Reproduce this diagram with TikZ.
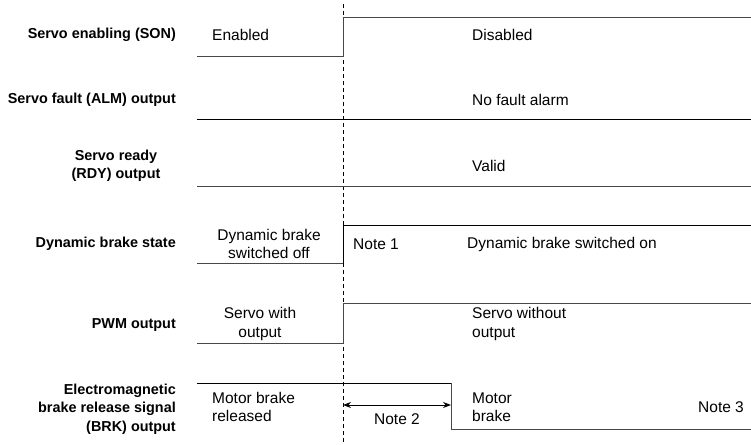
\documentclass[tikz,border=0pt]{standalone}
\usepackage{fontspec}
\setmainfont{Liberation Sans}
\usetikzlibrary{arrows.meta}

\begin{document}
\begin{tikzpicture}[
  x=1pt, y=-1pt,
  >={Stealth[length=8pt,width=6pt]},
  wave/.style={line width=1pt, black!72},
  marker/.style={dash pattern=on 4pt off 3pt, line width=0.8pt, black},
  signal/.style={font=\fontsize{14.4}{18.5}\selectfont\bfseries, align=right, anchor=east, inner sep=0pt},
  state/.style={font=\fontsize{15.5}{18.5}\selectfont, align=left, anchor=west, inner sep=0pt},
  mid state/.style={state, align=center, anchor=center}
]
  \useasboundingbox (0,0) rectangle (751,444);

  % switching instant
  \coordinate (t0) at (343,4);
  \coordinate (t1) at (343,444);
  \draw[marker] (t0) -- (t1);

  % signal names
  \node[signal] (son) at (176,35) {Servo enabling (SON)};
  \node[signal] (alm) at (176,100) {Servo fault (ALM) output};
  \node[signal, align=center, anchor=center] (rdy) at (116,166) {Servo ready\\(RDY) output};
  \node[signal] (dyn) at (176,244) {Dynamic brake state};
  \node[signal] (pwm) at (176,325) {PWM output};
  \node[signal] (brk) at (176,409) {Electromagnetic\\brake release signal\\(BRK) output};

  % SON
  \coordinate (son a) at (197,56);
  \coordinate (son b) at (343,56);
  \coordinate (son c) at (343,18);
  \coordinate (son d) at (751,18);
  \draw[wave] (son a) -- (son b) -- (son c) -- (son d);
  \node[state] (son1) at (212,35) {Enabled};
  \node[state] (son2) at (472,35) {Disabled};

  % ALM
  \coordinate (alm a) at (197,119);
  \coordinate (alm b) at (751,119);
  \draw[wave, black] (alm a) -- (alm b);
  \node[state] (alm1) at (472,100) {No fault alarm};

  % RDY
  \coordinate (rdy a) at (197,186);
  \coordinate (rdy b) at (751,186);
  \draw[wave] (rdy a) -- (rdy b);
  \node[state] (rdy1) at (472,166) {Valid};

  % dynamic brake
  \coordinate (dyn a) at (197,263);
  \coordinate (dyn b) at (343,263);
  \coordinate (dyn c) at (343,225);
  \coordinate (dyn d) at (751,225);
  \draw[wave] (dyn a) -- (dyn b);
  \draw[wave, black] (dyn b) -- (dyn c) -- (dyn d);
  \node[mid state] (dyn1) at (269,244) {Dynamic brake\\switched off};
  \node[state] (note1) at (353,244) {Note 1};
  \node[state] (dyn2) at (467,244) {Dynamic brake switched on};

  % PWM
  \coordinate (pwm a) at (197,343);
  \coordinate (pwm b) at (343,343);
  \coordinate (pwm c) at (343,303);
  \coordinate (pwm d) at (751,303);
  \draw[wave] (pwm a) -- (pwm b) -- (pwm c) -- (pwm d);
  \node[mid state] (pwm1) at (260,324) {Servo with\\output};
  \node[state] (pwm2) at (472,324) {Servo without\\output};

  % BRK
  \coordinate (brk a) at (197,383);
  \coordinate (brk b) at (451,383);
  \coordinate (brk c) at (451,429);
  \coordinate (brk d) at (751,429);
  \draw[wave, black] (brk a) -- (brk b);
  \draw[wave] (brk b) -- (brk c) -- (brk d);
  \node[state] (brk1) at (212,407) {Motor brake\\released};
  \node[state] (brk2) at (472,407) {Motor\\brake};
  \node[state] (note3) at (698,407) {Note 3};

  % delay
  \coordinate (dl a) at (343,405);
  \coordinate (dl b) at (451,405);
  \draw[<->, line width=0.9pt] (dl a) -- (dl b);
  \node[mid state] (note2) at (397,419) {Note 2};
\end{tikzpicture}
\end{document}
